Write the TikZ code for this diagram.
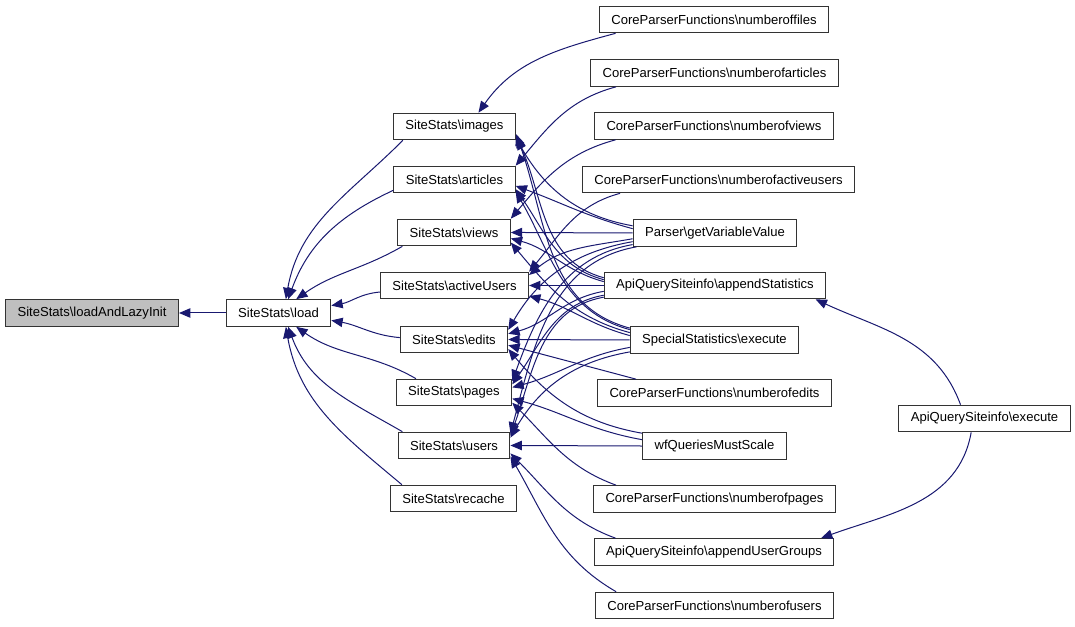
\documentclass[tikz,border=0pt]{standalone}
\usepackage{fontspec}
\setmainfont{Liberation Sans}
\usetikzlibrary{arrows.meta}
\newcommand{\bsl}{\textbackslash}
\definecolor{navy}{HTML}{191970}

\begin{document}
\begin{tikzpicture}[x = 0.75pt, y = -0.75pt, line width = 0.75pt,
                      > = {Triangle[length = 8.5pt, width = 7pt]},
                      func/.style = {draw = black!80, fill = white, inner xsep = 9pt, inner ysep = 0pt,
                                     minimum height = 20pt, font = \fontsize{9.8}{11}\selectfont},
                      root/.style = {func, fill = black!25},
                      call/.style = {<-, draw = navy}]
    \useasboundingbox (0, 0) rectangle (1075, 627);
    % callees
    \node [root] (lazy) at (92, 313) {SiteStats\bsl loadAndLazyInit};
    \node [func] (load) at (278.5, 313) {SiteStats\bsl load};
    \node [func] (images) at (454.5, 126.5) {SiteStats\bsl images};
    \node [func] (articles) at (454.5, 179.5) {SiteStats\bsl articles};
    \node [func] (views) at (454, 232.5) {SiteStats\bsl views};
    \node [func] (active) at (454.5, 285.5) {SiteStats\bsl activeUsers};
    \node [func] (edits) at (454, 339.5) {SiteStats\bsl edits};
    \node [func] (pages) at (454, 392.5) {SiteStats\bsl pages};
    \node [func] (users) at (454, 445.5) {SiteStats\bsl users};
    \node [func] (recache) at (453.5, 498.5) {SiteStats\bsl recache};
    % callers
    \node [func] (nfiles) at (714, 19.5) {CoreParserFunctions\bsl numberoffiles};
    \node [func] (narticles) at (714.5, 73) {CoreParserFunctions\bsl numberofarticles};
    \node [func] (nviews) at (714, 126) {CoreParserFunctions\bsl numberofviews};
    \node [func] (nactive) at (718.5, 179.5) {CoreParserFunctions\bsl numberofactiveusers};
    \node [func] (getvar) at (715, 233) {Parser\bsl getVariableValue};
    \node [func] (appstat) at (715, 285.5) {ApiQuerySiteinfo\bsl appendStatistics};
    \node [func] (special) at (714.5, 340) {SpecialStatistics\bsl execute};
    \node [func] (nedits) at (714.5, 393) {CoreParserFunctions\bsl numberofedits};
    \node [func] (wfq) at (714.5, 446) {wfQueriesMustScale};
    \node [func] (npages) at (714.5, 499) {CoreParserFunctions\bsl numberofpages};
    \node [func] (appgroups) at (714, 552) {ApiQuerySiteinfo\bsl appendUserGroups};
    \node [func] (nusers) at (714.5, 605.5) {CoreParserFunctions\bsl numberofusers};
    \node [func] (apiexec) at (984.5, 418.5) {ApiQuerySiteinfo\bsl execute};

    \draw [call] (lazy) -- (load);
    \draw [call] (load.62) to [out = 80, in = 225] (images.195);
    \draw [call] (load.55) to [out = 70, in = 205] (articles.190);
    \draw [call] (load.38) to [out = 35, in = 210] (views.195);
    \draw [call] (load.8) to [out = 10, in = 185] (active.185);
    \draw [call] (load.-8) to [out = -10, in = 175] (edits.178);
    \draw [call] (load.-38) to [out = -35, in = 150] (pages.160);
    \draw [call] (load.-55) to [out = -70, in = 150] (users.165);
    \draw [call] (load.-62) to [out = -80, in = 140] (recache.165);

    \draw [call] (images.30) to [out = 55, in = 195] (nfiles.188);
    \draw [call] (articles.north east) to [out = 50, in = 195] (narticles.188);
    \draw [call] (views.north east) to [out = 50, in = 195] (nviews.188);
    \draw [call] (active.north east) to [out = 50, in = 195] (nactive.188);

    \draw [call] (images.-11) to [out = -60, in = 170] (getvar.175);
    \draw [call] (articles.-6) to [out = -20, in = 165] (getvar.177);
    \draw [call] (views.east) to [out = 0, in = 180] (getvar.west);
    \draw [call] (active.8) to [out = 40, in = 190] (getvar.184);
    \draw [call] (edits.10) to [out = 60, in = 190] (getvar.186);
    \draw [call] (pages.11) to [out = 70, in = 190] (getvar.188);
    \draw [call] (users.12) to [out = 75, in = 190] (getvar.190);

    \draw [call] (images.-9) to [out = -65, in = 165] (appstat.176);
    \draw [call] (articles.-9) to [out = -55, in = 165] (appstat.177);
    \draw [call] (views.-6) to [out = -15, in = 165] (appstat.178);
    \draw [call] (active.east) to [out = 0, in = 180] (appstat.west);
    \draw [call] (edits.6) to [out = 15, in = 190] (appstat.183);
    \draw [call] (pages.8) to [out = 55, in = 190] (appstat.185);
    \draw [call] (users.10) to [out = 70, in = 190] (appstat.186);

    \draw [call] (images.-7) to [out = -70, in = 165] (special.172);
    \draw [call] (articles.-11) to [out = -60, in = 165] (special.173);
    \draw [call] (views.-10) to [out = -50, in = 165] (special.175);
    \draw [call] (active.-8) to [out = -15, in = 165] (special.177);
    \draw [call] (edits.east) to [out = 0, in = 180] (special.west);
    \draw [call] (pages.5) to [out = 15, in = 190] (special.185);
    \draw [call] (users.8) to [out = 60, in = 190] (special.188);

    \draw [call] (edits.-6) to [out = -15, in = 165] (nedits.170);
    \draw [call] (edits.-10) to [out = -50, in = 170] (wfq.170);
    \draw [call] (pages.-6) to [out = -15, in = 170] (wfq.175);
    \draw [call] (users.east) to [out = 0, in = 180] (wfq.west);
    \draw [call] (pages.-10) to [out = -45, in = 160] (npages.172);
    \draw [call] (users.-8) to [out = -45, in = 160] (appgroups.172);
    \draw [call] (users.-11) to [out = -60, in = 150] (nusers.172);

    \draw [call] ([xshift = -8pt]appstat.south east) to [out = -25, in = 110] ([xshift = -18pt]apiexec.north);
    \draw [call] ([xshift = -10pt]appgroups.north east) to [out = 20, in = -100] ([xshift = -10pt]apiexec.south);
\end{tikzpicture}
\end{document}
